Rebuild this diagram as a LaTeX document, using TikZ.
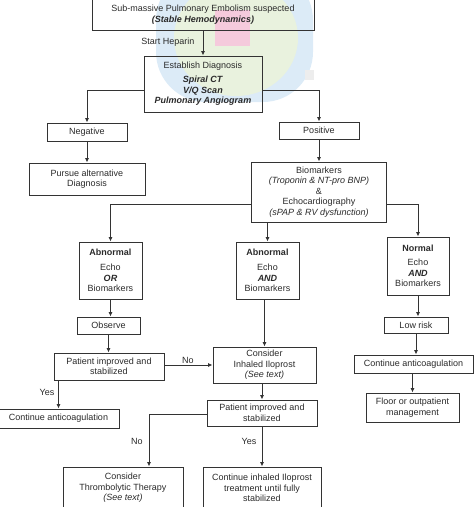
\documentclass[tikz,border=0pt]{standalone}
\usepackage{fontspec}
\setmainfont{Liberation Sans}
\usetikzlibrary{arrows.meta}
\definecolor{linec}{HTML}{333333}
\definecolor{textc}{HTML}{2A2A2A}
\definecolor{wblue}{HTML}{DCEBF7}
\definecolor{wgreen}{HTML}{E9F2DE}
\definecolor{wpink}{HTML}{F5CADC}
\begin{document}
\begin{tikzpicture}[x=1pt,y=-1pt,
  box/.style={draw=linec, line width=0.9pt, text=textc, align=center, inner sep=1pt,
    font=\fontsize{9}{10.5}\selectfont},
  arr/.style={draw=linec, line width=0.9pt, -{Latex[length=4.5pt,width=4pt]}},
  lbl/.style={text=textc, font=\fontsize{9}{10.5}\selectfont, inner sep=0pt}]
\useasboundingbox (0,0) rectangle (474,507);
\clip (0,0) rectangle (474,507);
% faint watermark behind the top of the chart
\fill[wblue, rounded corners=50pt] (156,-30) rectangle (313,102);
\fill[wgreen] (236,38) ellipse [x radius=62, y radius=58];
\fill[wpink] (215,10) rectangle (250,46);
\fill[black!7] (305,70) rectangle (314,80);
% nodes
\node[box, minimum width=222, minimum height=31] (top) at (203,14.5)
  {Sub-massive Pulmonary Embolism suspected\\\textbf{\textit{(Stable Hemodynamics)}}};
\node[box, minimum width=118, minimum height=56] (est) at (203,84)
  {Establish Diagnosis\\[3.5pt]\textbf{\textit{Spiral CT}}\\\textbf{\textit{V/Q Scan}}\\\textbf{\textit{Pulmonary Angiogram}}};
\node[box, minimum width=80, minimum height=18] (neg) at (87,132) {Negative};
\node[box, minimum width=80, minimum height=17] (pos) at (319,130.5) {Positive};
\node[box, minimum width=116, minimum height=32] (pursue) at (87,179) {Pursue alternative\\Diagnosis};
\node[box, minimum width=135, minimum height=60] (bio) at (319,192)
  {Biomarkers\\\textit{(Troponin \& NT-pro BNP)}\\\&\\Echocardiography\\\textit{(sPAP \& RV dysfunction)}};
\node[box, minimum width=63, minimum height=57] (abn1) at (110.5,270.5)
  {\textbf{Abnormal}\\[5pt]Echo\\\textbf{\textit{OR}}\\Biomarkers};
\node[box, minimum width=63, minimum height=57] (abn2) at (267.5,270.5)
  {\textbf{Abnormal}\\[5pt]Echo\\\textbf{\textit{AND}}\\Biomarkers};
\node[box, minimum width=62, minimum height=58] (norm) at (418,266)
  {\textbf{Normal}\\[4pt]Echo\\\textbf{\textit{AND}}\\Biomarkers};
\node[box, minimum width=63, minimum height=17] (obs) at (108.5,325.5) {Observe};
\node[box, minimum width=64, minimum height=16] (low) at (416,325) {Low risk};
\node[box, minimum width=110, minimum height=27] (pat1) at (109,366.5) {Patient improved and\\stabilized};
\node[box, minimum width=103, minimum height=36] (cons) at (264.5,365)
  {Consider\\Inhaled Iloprost\\\textit{(See text)}};
\node[box, minimum width=119, minimum height=18] (contR) at (413.5,364) {Continue anticoagulation};
\node[box, minimum width=121, minimum height=19] (contL) at (58.5,418.5) {Continue anticoagulation};
\node[box, minimum width=93, minimum height=29] (floor) at (412.5,407.5) {Floor or outpatient\\management};
\node[box, minimum width=110, minimum height=26] (pat2) at (262,413) {Patient improved and\\stabilized};
\node[box, minimum width=120, minimum height=42] (thromb) at (123,488)
  {Consider\\Thrombolytic Therapy\\\textit{(See text)}};
\node[box, minimum width=118, minimum height=42] (contI) at (262,488)
  {Continue inhaled Iloprost\\treatment until fully\\stabilized};
% labels
\node[lbl] (lSH) at (168,42) {Start Heparin};
\node[lbl] (lNo1) at (188,360) {No};
\node[lbl] (lYes1) at (47,392) {Yes};
\node[lbl] (lNo2) at (137,441) {No};
\node[lbl] (lYes2) at (249,441) {Yes};
% bend points
\coordinate (e1) at (87,90);
\coordinate (e2) at (319,90);
\coordinate (b1) at (110.5,204);
\coordinate (b2) at (418,204);
\coordinate (p1) at (149,414);
% connectors
\draw[arr] (top.south) -- (est.north);
\draw[arr] (est.west |- e1) -- (e1) -- (neg.north);
\draw[arr] (est.east |- e2) -- (e2) -- (pos.north);
\draw[arr] (neg.south) -- (pursue.north);
\draw[arr] (pos.south) -- (bio.north);
\draw[arr] (bio.west |- b1) -- (b1) -- (abn1.north);
\draw[arr] (bio.south -| abn2.north) -- (abn2.north);
\draw[arr] (bio.east |- b2) -- (b2) -- (norm.north);
\draw[arr] (abn1.south) -- (abn1.south |- obs.north);
\draw[arr] (obs.south) -- (obs.south |- pat1.north);
\draw[arr] (pat1.east |- cons.west) -- (cons.west);
\draw[arr] (cons.north |- abn2.south) -- (cons.north);
\draw[arr] (norm.south) -- (norm.south |- low.north);
\draw[arr] (low.south) -- (low.south |- contR.north);
\draw[arr] (floor.north |- contR.south) -- (floor.north);
\draw[arr] (contL.north |- pat1.south) -- (contL.north);
\draw[arr] (pat2.north |- cons.south) -- (pat2.north);
\draw[arr] (pat2.west |- p1) -- (p1) -- (p1 |- thromb.north);
\draw[arr] (pat2.south) -- (contI.north);
\end{tikzpicture}
\end{document}
